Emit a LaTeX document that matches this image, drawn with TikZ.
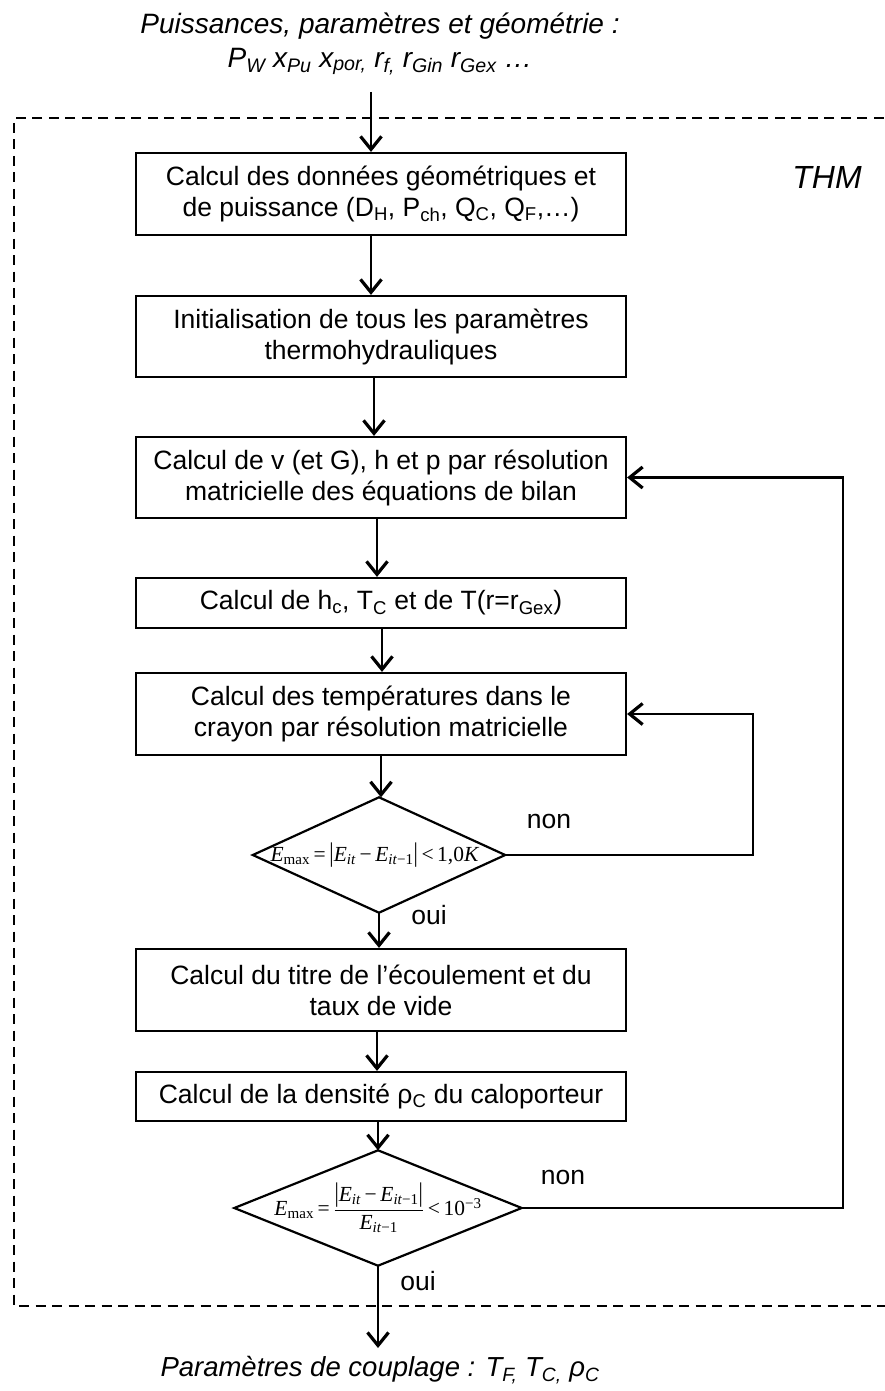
\documentclass[tikz,border=0pt]{standalone}
\usepackage{amsmath}
\usepackage[no-math]{fontspec}
\setmainfont{Liberation Sans}
\newfontfamily\tnr{Liberation Serif}
\newcommand{\myE}[1]{\textit{E}\textsubscript{#1}}
\usetikzlibrary{arrows.meta}
\begin{document}
\begin{tikzpicture}[x=1pt,y=-1pt,
  box/.style={draw, line width=2.2pt, minimum width=490pt, align=center, inner sep=0pt, font=\fontsize{26.5}{31}\selectfont},
  dia/.style={inner sep=0pt, font=\fontsize{21.5}{26}\selectfont\tnr},
  arr/.style={line width=2.2pt, -{Straight Barb[length=13pt,width=21pt,line width=3.2pt]}},
  link/.style={line width=2.2pt},
  lbl/.style={inner sep=0pt, font=\fontsize{26.5}{31}\selectfont},
  ital/.style={inner sep=0pt, align=center, font=\fontsize{28}{34}\selectfont\itshape},
  frame/.style={dash pattern=on 10pt off 6.5pt, line width=2pt}
]
\useasboundingbox (0,0) rectangle (884,1391);

% dashed THM frame
\draw[frame] (900,118) -- (14,118) -- (14,1306) -- (900,1306);
\node[inner sep=0pt, font=\fontsize{32}{36}\selectfont\itshape] (thm) at (827,177) {THM};

% input text
\node[ital] (inp) at (380,44) {Puissances, paramètres et géométrie :\\
P\textsubscript{W} x\textsubscript{Pu} x\textsubscript{por,} r\textsubscript{f,} r\textsubscript{Gin} r\textsubscript{Gex} \dots};
\coordinate (inA) at (371,92);

% boxes
\node[box, minimum height=82pt] (b1) at (381,194) {Calcul des données géométriques et\\de puissance (D\textsubscript{H}, P\textsubscript{ch}, Q\textsubscript{C}, Q\textsubscript{F},\dots)};
\node[box, minimum height=81pt] (b2) at (381,336.5) {Initialisation de tous les paramètres\\thermohydrauliques};
\node[box, minimum height=81pt] (b3) at (381,477.5) {Calcul de v (et G), h et p par résolution\\matricielle des équations de bilan};
\node[box, minimum height=50pt] (b4) at (381,603) {Calcul de h\textsubscript{c}, T\textsubscript{C} et de T(r=r\textsubscript{Gex})};
\node[box, minimum height=82pt] (b5) at (381,714) {Calcul des températures dans le\\crayon par résolution matricielle};
\node[dia, minimum width=252pt, minimum height=115pt] (d1) at (379,855)
  {\myE{max}\,=\,\scalebox{1}[1.25]{|}\myE{\textit{it}}\,−\,\myE{\textit{it}−1}\scalebox{1}[1.25]{|}\,<\,1,0\textit{K}\hspace*{8pt}};
\draw[link] (d1.north) -- (d1.east) -- (d1.south) -- (d1.west) -- cycle;
\node[box, minimum height=82pt] (b6) at (381,990) {Calcul du titre de l’écoulement et du\\taux de vide};
\node[box, minimum height=49pt] (b7) at (381,1096.5) {Calcul de la densité ρ\textsubscript{C} du caloporteur};
\node[dia, minimum width=287pt, minimum height=115pt] (d2) at (378,1208)
  {\myE{max}\,=\,$\dfrac{\text{\scalebox{1}[1.25]{|}\myE{\textit{it}}\,−\,\myE{\textit{it}−1}\scalebox{1}[1.25]{|}}}{\text{\myE{\textit{it}−1}}}$\,<\,10\textsuperscript{−3}};
\draw[link] (d2.north) -- (d2.east) -- (d2.south) -- (d2.west) -- cycle;

% output text
\node[ital, font=\fontsize{27.5}{34}\selectfont\itshape] (out) at (380,1370) {Paramètres de couplage : T\textsubscript{F,} T\textsubscript{C,} ρ\textsubscript{C}};
\coordinate (outA) at (378,1348);

% labels
\node[lbl] (non1) at (549,821) {non};
\node[lbl] (oui1) at (429,915) {oui};
\node[lbl] (non2) at (563,1177) {non};
\node[lbl] (oui2) at (418,1281) {oui};

% main flow
\draw[arr] (inA) -- (inA |- b1.north);
\draw[arr] ([xshift=-10pt]b1.south) -- ([xshift=-10pt]b2.north);
\draw[arr] ([xshift=-7pt]b2.south) -- ([xshift=-7pt]b3.north);
\draw[arr] ([xshift=-4pt]b3.south) -- ([xshift=-4pt]b4.north);
\draw[arr] ([xshift=1pt]b4.south) -- ([xshift=1pt]b5.north);
\draw[arr] (b5.south) -- (b5.south |- d1.north);
\draw[arr] (d1.south) -- (d1.south |- b6.north);
\draw[arr] ([xshift=-4pt]b6.south) -- ([xshift=-4pt]b7.north);
\draw[arr] (d2.north |- b7.south) -- (d2.north);
\draw[arr] (d2.south) -- (outA);

% feedback loops
\draw[arr] (d1.east) -- (753,855) -- (753,714) -- (b5.east);
\draw[arr] (d2.east) -- (843,1208) -- (843,477.5) -- (b3.east);
\end{tikzpicture}
\end{document}
